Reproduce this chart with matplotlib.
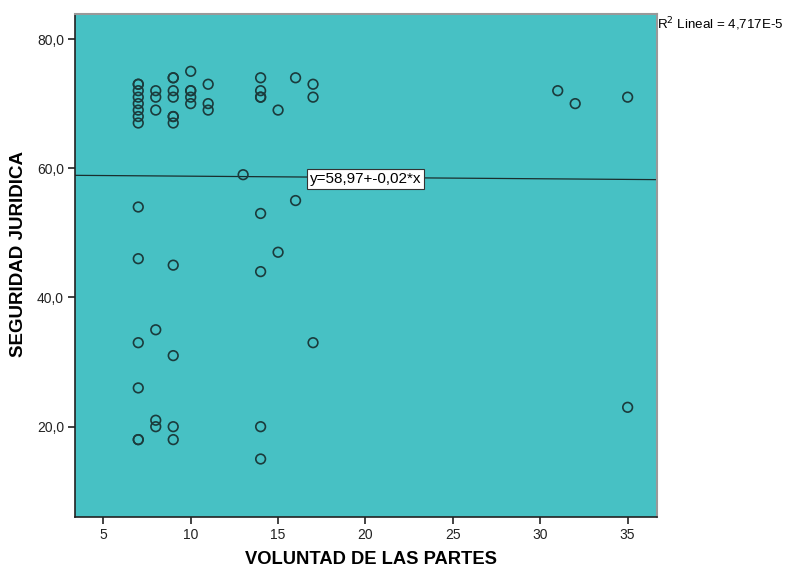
import matplotlib
matplotlib.use("Agg")
import matplotlib.pyplot as plt
import numpy as np

plt.rcParams['font.family'] = ['Liberation Sans', 'DejaVu Sans']

voluntad = [7, 7, 7, 7, 7, 7, 7, 7, 7, 7, 7, 7, 7, 7,
            8, 8, 8, 8, 8, 8,
            9, 9, 9, 9, 9, 9, 9, 9, 9, 9, 9,
            10, 10, 10, 10, 10,
            11, 11, 11,
            13,
            14, 14, 14, 14, 14, 14, 14, 14,
            15, 15,
            16, 16,
            17, 17, 17,
            31, 32, 35, 35]
seguridad = [73, 73, 72, 71, 70, 69, 68, 67, 54, 46, 33, 26, 18, 18,
             72, 71, 69, 35, 21, 20,
             74, 74, 72, 71, 68, 68, 67, 45, 31, 20, 18,
             75, 72, 72, 71, 70,
             73, 70, 69,
             59,
             74, 72, 71, 71, 53, 44, 20, 15,
             69, 47,
             74, 55,
             73, 71, 33,
             72, 70, 71, 23]

intercept = 58.97
slope = -0.02
fit_label = "y=58,97+-0,02*x"
r2_label = "R$^2$ Lineal = 4,717E-5"
xticks = [5, 10, 15, 20, 25, 30, 35]
yticks = [20, 40, 60, 80]

fig = plt.figure(figsize=(7.86, 5.67), dpi=100)
ax = fig.add_axes([75/786, 50.3/567, (657-75)/786, (516.7-14)/567])
ax.set_facecolor('#47c1c4')
ax.set_xlim(3.38, 36.68)
ax.set_ylim(6.07, 83.87)

ax.scatter(voluntad, seguridad, s=48, facecolors='none', edgecolors='#1b3b3c', linewidths=1.2, zorder=3)

xs = np.array(ax.get_xlim())
ax.plot(xs, intercept + slope * xs, color='#1a2e2e', lw=0.9, zorder=2)

ax.text(20.0, 58.4, fit_label, fontsize=11, ha='center', va='center',
        bbox=dict(boxstyle='square,pad=0.2', facecolor='white', edgecolor='#333333', lw=0.8), zorder=4)

fig.text(657/786, 1 - 24/567, r2_label, fontsize=9.6, ha='left', va='center')

ax.set_xticks(xticks)
ax.set_xticklabels([str(t) for t in xticks])
ax.set_yticks(yticks)
ax.set_yticklabels([f"{t},0" for t in yticks])
ax.tick_params(direction='out', length=5, width=1.2, labelsize=10, colors='#222222', pad=3)

for side in ['left', 'bottom']:
    ax.spines[side].set_color('#222222')
    ax.spines[side].set_linewidth(1.2)
for side in ['top', 'right']:
    ax.spines[side].set_color('#999999')
    ax.spines[side].set_linewidth(1.5)

ax.set_xlabel("VOLUNTAD DE LAS PARTES", fontsize=13.2, fontweight='bold')
ax.set_ylabel("SEGURIDAD JURIDICA", fontsize=13.5, fontweight='bold')
ax.xaxis.set_label_coords((371 - 75) / 582, -(551 - 516.7) / 502.7)
ax.yaxis.set_label_coords(-(75 - 27) / 582, (516.7 - 254) / 502.7)

fig.savefig("out.png", dpi=100)
